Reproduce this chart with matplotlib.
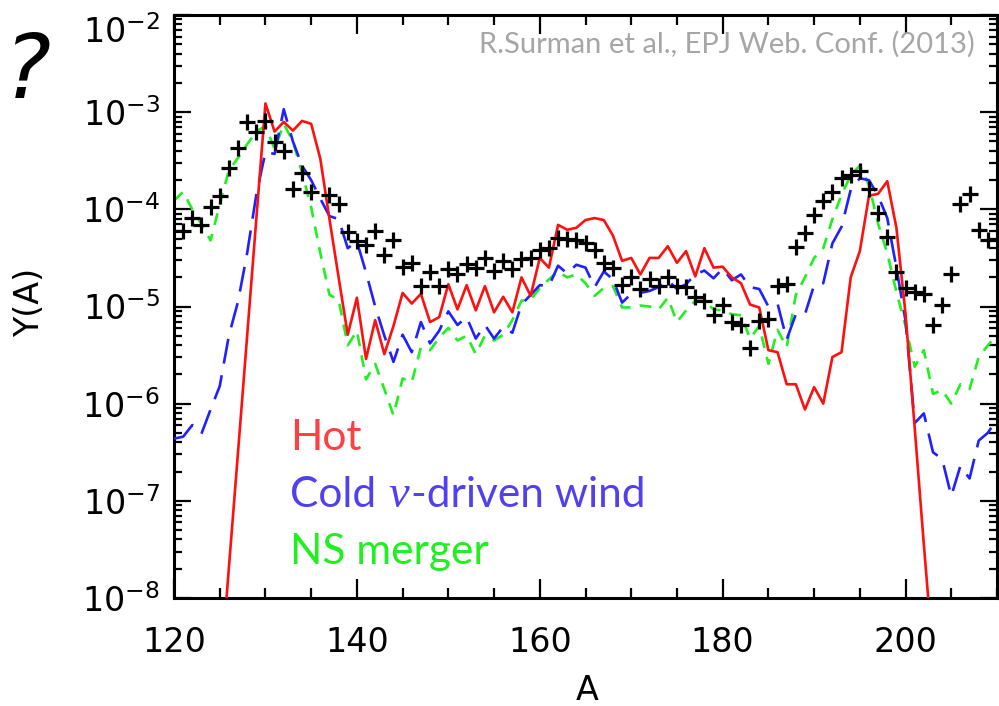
import numpy as np
import matplotlib
matplotlib.use('Agg')
import matplotlib.pyplot as plt
from matplotlib.ticker import FixedLocator, MultipleLocator, NullFormatter
import matplotlib.transforms as mtransforms

# ---------------- data (log10 of abundance Y(A)) ----------------
hot_A = list(range(125, 204))
hot_log = [-8.9, -7.69, -6.5, -5.3, -4.1,                      # 125-129
           -2.91, -3.2, -3.10, -3.19, -3.09, -3.12, -3.48, -4.1, -4.7, -5.29,  # 130-139
           -4.91, -5.54, -5.14, -5.49, -5.2, -4.86, -4.97, -4.87, -5.16, -5.11,  # 140-149
           -4.77, -5.03, -4.78, -5.04, -4.79, -5.06, -4.90, -5.06, -4.70, -4.89,  # 150-159
           -4.50, -4.60, -4.16, -4.21, -4.19, -4.11, -4.09, -4.11, -4.27, -4.53,  # 160-169
           -4.50, -4.67, -4.50, -4.50, -4.38, -4.55, -4.43, -4.69, -4.40, -4.60,  # 170-179
           -4.59, -4.70, -4.76, -4.98, -5.01, -5.45, -5.47, -5.80, -5.80, -6.06,  # 180-189
           -5.83, -6.00, -5.52, -5.47, -4.70, -4.43, -3.86, -3.84, -3.71, -4.19,  # 190-199
           -5.08, -6.25, -7.45, -8.6]                                            # 200-203

model_A = list(range(120, 211))
cold_log = [-6.36, -6.34, -6.22, -6.31, -6.06, -5.82, -5.3, -4.95, -4.45, -3.85,  # 120-129
            -3.41, -3.43, -2.97, -3.3, -3.55, -3.7, -3.89, -4.07, -4.1, -4.4,     # 130-139
            -4.33, -4.65, -5.0, -5.3, -5.57, -5.29, -5.47, -5.16, -5.38, -5.25,   # 140-149
            -5.05, -5.19, -5.11, -5.33, -5.19, -5.33, -5.21, -5.27, -4.98, -4.88, # 150-159
            -4.78, -4.79, -4.58, -4.66, -4.57, -4.60, -4.80, -4.64, -4.72, -4.96, # 160-169
            -4.87, -4.86, -4.84, -4.80, -4.73, -4.82, -4.77, -4.67, -4.63, -4.71, # 170-179
            -4.61, -4.73, -4.67, -4.80, -4.82, -5.00, -4.97, -5.34, -5.08, -5.08, # 180-189
            -4.78, -4.76, -4.35, -4.18, -3.80, -3.68, -3.70, -3.86, -4.09, -4.60, # 190-199
            -5.15, -6.2, -6.1, -6.5, -6.57, -6.95, -6.64, -6.77, -6.38, -6.30,    # 200-209
            -6.16]                                                                 # 210

ns_log = [-3.91, -3.82, -4.0, -4.15, -4.32, -3.95, -3.6, -3.47, -3.33, -3.2,     # 120-129
          -3.14, -3.38, -3.12, -3.3, -3.62, -3.98, -4.45, -4.88, -4.93, -5.40,   # 130-139
          -5.25, -5.75, -5.59, -5.85, -6.12, -5.74, -5.78, -5.42, -5.45, -5.32,  # 140-149
          -5.22, -5.35, -5.30, -5.49, -5.30, -5.35, -5.29, -5.14, -4.94, -4.93,  # 150-159
          -4.81, -4.72, -4.64, -4.70, -4.67, -4.76, -4.89, -4.81, -4.79, -5.01,  # 160-169
          -5.01, -4.99, -5.00, -5.03, -4.91, -5.16, -5.04, -4.94, -4.94, -5.03,  # 170-179
          -5.04, -5.08, -5.09, -5.33, -5.20, -5.59, -5.24, -5.42, -4.88, -4.70,  # 180-189
          -4.50, -4.40, -4.10, -3.85, -3.65, -3.55, -3.75, -4.15, -4.45, -4.85,  # 190-199
          -5.20, -5.62, -5.45, -5.90, -5.86, -6.00, -5.80, -5.85, -5.52, -5.40,  # 200-209
          -5.29]                                                                  # 210

solar_A = [121, 122, 123, 124, 125, 126, 127, 128, 129, 130, 131, 132, 133, 134, 135,
           137, 138, 139, 140, 141, 142, 143, 144, 145, 146, 147, 148, 149,
           150, 151, 152, 153, 154, 155, 156, 157, 158, 159,
           160, 161, 162, 163, 164, 165, 166, 167, 168, 169,
           170, 171, 172, 173, 174, 175, 176, 177, 178, 179,
           180, 181, 182, 183, 184, 185, 186, 187, 188, 189,
           190, 191, 192, 193, 194, 195, 196, 197, 198, 199,
           200, 201, 202, 203, 204, 205, 206, 207, 208, 209]
solar_log = [-4.22, -4.09, -4.16, -3.98, -3.86, -3.57, -3.37, -3.10, -3.20, -3.09, -3.31, -3.40, -3.79, -3.63, -3.82,
             -3.85, -3.94, -4.23, -4.33, -4.37, -4.22, -4.47, -4.32, -4.59, -4.55, -4.79, -4.64, -4.79,
             -4.61, -4.67, -4.56, -4.60, -4.50, -4.63, -4.53, -4.61, -4.51, -4.50,
             -4.42, -4.40, -4.29, -4.31, -4.32, -4.35, -4.42, -4.55, -4.60, -4.78,
             -4.70, -4.82, -4.72, -4.79, -4.70, -4.79, -4.80, -4.90, -4.94, -5.09,
             -4.98, -5.16, -5.19, -5.43, -5.15, -5.13, -4.79, -4.77, -4.39, -4.24,
             -4.06, -3.91, -3.82, -3.68, -3.65, -3.61, -3.79, -4.04, -4.28, -4.64,
             -4.81, -4.85, -4.87, -5.19, -4.98, -4.67, -3.95, -3.84, -4.21, -4.32]

x_ticks = [120, 140, 160, 180, 200]
y_ticks = [1e-8, 1e-7, 1e-6, 1e-5, 1e-4, 1e-3, 1e-2]
y_ticklabels = [r'$10^{-8}$', r'$10^{-7}$', r'$10^{-6}$', r'$10^{-5}$',
                r'$10^{-4}$', r'$10^{-3}$', r'$10^{-2}$']

legend_labels = ['Hot', 'Cold ', '\u03bd', '-driven wind', 'NS merger']
citation = 'R.Surman et al., EPJ Web. Conf. (2013)'

# ---------------- figure ----------------
W, H = 999, 706
fig = plt.figure(figsize=(W / 100, H / 100), dpi=100)
ax = fig.add_axes([174 / W, 1 - 598 / H, (997 - 174) / W, (598 - 15) / H])
ax.set_yscale('log')

RED = '#ff1010'
BLUE = '#2020ff'
GREEN = '#20f020'

ax.plot(hot_A, np.power(10.0, hot_log), color=RED, lw=1.9, zorder=4)
ax.plot(model_A, np.power(10.0, cold_log), color=BLUE, lw=1.9,
        dashes=(9.5, 4.5), zorder=3)
ax.plot(model_A, np.power(10.0, ns_log), color=GREEN, lw=1.9,
        dashes=(4.5, 3.5), zorder=2)
ax.plot(solar_A, np.power(10.0, solar_log), ls='none', marker='+', ms=11.5,
        mew=2.3, color='black', zorder=5)

ax.set_xlim(120, 210)
ax.set_ylim(1e-8, 1e-2)

ax.xaxis.set_major_locator(FixedLocator(x_ticks))
ax.xaxis.set_minor_locator(MultipleLocator(5))
ax.set_xticklabels([str(t) for t in x_ticks])
ax.yaxis.set_major_locator(FixedLocator(y_ticks))
ax.set_yticklabels(y_ticklabels)
ax.yaxis.set_minor_locator(matplotlib.ticker.LogLocator(base=10, subs=np.arange(2, 10), numticks=20))
ax.yaxis.set_minor_formatter(NullFormatter())

ax.tick_params(which='both', direction='in', top=True, right=True, width=1.6,
               colors='black', labelsize=24)
ax.tick_params(axis='x', which='major', length=14, pad=20)
ax.tick_params(axis='x', which='minor', length=7)
ax.tick_params(axis='y', which='major', length=12, pad=10)
ax.tick_params(axis='y', which='minor', length=6)
for s in ax.spines.values():
    s.set_linewidth(2.2)

fig.canvas.draw()
ticks = ax.yaxis.get_major_ticks()
top_lab = ticks[-1].label1
top_lab.set_transform(top_lab.get_transform() +
                      mtransforms.ScaledTranslation(0, -14 / 100, fig.dpi_scale_trans))

fig.text(30 / W, 1 - 302 / H, 'Y(A)', rotation=90, ha='center', va='center', fontsize=24)
fig.text(587 / W, 1 - 690 / H, 'A', ha='center', va='center', fontsize=24)
fig.text(27 / W, 1 - 73 / H, '?', ha='center', va='center', fontsize=64,
         fontstyle='oblique', family='DejaVu Sans')
fig.text(975 / W, 1 - 44 / H, citation, ha='right', va='center',
         color='#a6a6a6', fontsize=21, family='Lato')

LFS = 30.5
fig.text(290 / W, 1 - 450 / H, legend_labels[0], va='baseline', color='#ff4040',
         fontsize=LFS, family='Lato')
t1 = fig.text(290 / W, 1 - 507 / H, legend_labels[1].strip(), va='baseline',
              color='#5040f0', fontsize=LFS, family='Lato')
fig.text(290 / W, 1 - 564 / H, legend_labels[4], va='baseline', color='#20f020',
         fontsize=LFS, family='Lato')

r = fig.canvas.get_renderer()
x1 = t1.get_window_extent(r).x1
space = 0.3 * LFS * 100 / 72
t2 = fig.text((x1 + space) / W, 1 - 507 / H, legend_labels[2], va='baseline',
              color='#5040f0', fontsize=LFS + 3, family='Liberation Serif',
              fontstyle='italic')
x2 = t2.get_window_extent(r).x1
fig.text((x2 + 2) / W, 1 - 507 / H, legend_labels[3], va='baseline',
         color='#5040f0', fontsize=LFS, family='Lato')

fig.savefig('out.png', dpi=100)
